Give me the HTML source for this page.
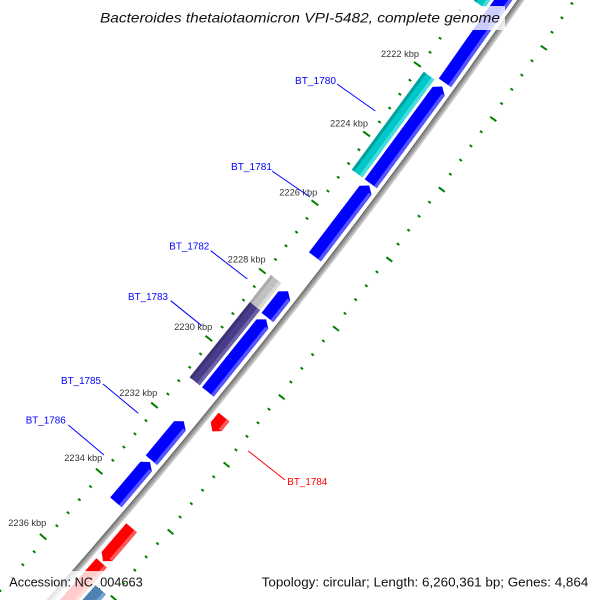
<!DOCTYPE html>
<html><head><meta charset="utf-8"><style>
html,body{margin:0;padding:0;background:#fff;width:600px;height:600px;overflow:hidden;}
svg{display:block;overflow:hidden;}
text{font-family:"Liberation Sans",sans-serif;}
</style></head><body>
<svg width="600" height="600" viewBox="0 0 600 600" xmlns="http://www.w3.org/2000/svg" overflow="hidden">
<defs><clipPath id="cp"><rect x="0" y="0" width="600" height="600"/></clipPath></defs>
<g clip-path="url(#cp)">
<rect x="0" y="0" width="600" height="600" fill="#fff"/>
<g transform="translate(-4900,-3765)">
  <!-- inner tick ring -->
  <g stroke="#008000" stroke-width="2">
    <line transform="rotate(35.1576)" x1="6554.5" x2="6557.5"/><line transform="rotate(35.3082)" x1="6554.5" x2="6557.5"/><line transform="rotate(35.4588)" x1="6554.5" x2="6557.5"/><line transform="rotate(35.6094)" x1="6554.5" x2="6557.5"/>
    <line transform="rotate(35.9106)" x1="6554.5" x2="6557.5"/><line transform="rotate(36.0612)" x1="6554.5" x2="6557.5"/><line transform="rotate(36.2118)" x1="6554.5" x2="6557.5"/><line transform="rotate(36.3624)" x1="6554.5" x2="6557.5"/>
    <line transform="rotate(36.6636)" x1="6554.5" x2="6557.5"/><line transform="rotate(36.8142)" x1="6554.5" x2="6557.5"/><line transform="rotate(36.9648)" x1="6554.5" x2="6557.5"/><line transform="rotate(37.1154)" x1="6554.5" x2="6557.5"/>
    <line transform="rotate(37.4166)" x1="6554.5" x2="6557.5"/><line transform="rotate(37.5672)" x1="6554.5" x2="6557.5"/><line transform="rotate(37.7178)" x1="6554.5" x2="6557.5"/><line transform="rotate(37.8684)" x1="6554.5" x2="6557.5"/>
    <line transform="rotate(38.1696)" x1="6554.5" x2="6557.5"/><line transform="rotate(38.3202)" x1="6554.5" x2="6557.5"/><line transform="rotate(38.4708)" x1="6554.5" x2="6557.5"/><line transform="rotate(38.6214)" x1="6554.5" x2="6557.5"/>
    <line transform="rotate(38.9226)" x1="6554.5" x2="6557.5"/><line transform="rotate(39.0732)" x1="6554.5" x2="6557.5"/><line transform="rotate(39.2238)" x1="6554.5" x2="6557.5"/><line transform="rotate(39.3744)" x1="6554.5" x2="6557.5"/>
    <line transform="rotate(39.6756)" x1="6554.5" x2="6557.5"/><line transform="rotate(39.8262)" x1="6554.5" x2="6557.5"/><line transform="rotate(39.9768)" x1="6554.5" x2="6557.5"/><line transform="rotate(40.1274)" x1="6554.5" x2="6557.5"/>
    <line transform="rotate(40.4286)" x1="6554.5" x2="6557.5"/><line transform="rotate(40.5792)" x1="6554.5" x2="6557.5"/><line transform="rotate(40.7298)" x1="6554.5" x2="6557.5"/><line transform="rotate(40.8804)" x1="6554.5" x2="6557.5"/>
    <line transform="rotate(41.1816)" x1="6554.5" x2="6557.5"/><line transform="rotate(41.3322)" x1="6554.5" x2="6557.5"/><line transform="rotate(41.4828)" x1="6554.5" x2="6557.5"/><line transform="rotate(41.6334)" x1="6554.5" x2="6557.5"/>
    <line transform="rotate(35.76)" x1="6548.5" x2="6557"/><line transform="rotate(36.513)" x1="6548.5" x2="6557"/>
    <line transform="rotate(37.266)" x1="6548.5" x2="6557"/><line transform="rotate(38.019)" x1="6548.5" x2="6557"/><line transform="rotate(38.772)" x1="6548.5" x2="6557"/><line transform="rotate(39.525)" x1="6548.5" x2="6557"/>
    <line transform="rotate(40.278)" x1="6548.5" x2="6557"/><line transform="rotate(41.031)" x1="6548.5" x2="6557"/>
  </g>

  <!-- backbone (arcs limited to visible span) -->
  <g fill="none" transform="rotate(38)">
    <path d="M6584.73,-414.27 A6597.75,6597.75 0 0 1 6584.73,414.27" stroke="#6e6e6e" stroke-width="1.5"/>
    <path d="M6586.23,-414.37 A6599.25,6599.25 0 0 1 6586.23,414.37" stroke="#8a8a8a" stroke-width="1.5"/>
    <path d="M6587.73,-414.46 A6600.75,6600.75 0 0 1 6587.73,414.46" stroke="#a6a6a6" stroke-width="1.5"/>
    <path d="M6589.22,-414.56 A6602.25,6602.25 0 0 1 6589.22,414.56" stroke="#c6c6c6" stroke-width="1.5"/>
  </g>

  <!-- inner row 1: blue (reverse strand) -->
  <g transform="rotate(35.125)"><polygon fill="#0000ff" points="6578,-65.84 6585.5,-71.84 6593,-65.84 6593,71.84 6578,71.84"/><polygon fill="#5555ff" points="6589.5,-65.84 6593,-65.84 6593,71.84 6589.5,71.84"/></g>
  <g transform="rotate(36.315)"><polygon fill="#0000ff" points="6578,-54.34 6585.5,-60.34 6593,-54.34 6593,60.34 6578,60.34"/><polygon fill="#5555ff" points="6589.5,-54.34 6593,-54.34 6593,60.34 6589.5,60.34"/></g>
  <g transform="rotate(37.25)"><polygon fill="#0000ff" points="6578,-38.83 6585.5,-44.83 6593,-38.83 6593,44.83 6578,44.83"/><polygon fill="#5555ff" points="6589.5,-38.83 6593,-38.83 6593,44.83 6589.5,44.83"/></g>
  <g transform="rotate(38.165)"><polygon fill="#0000ff" points="6578,-10.67 6585.5,-16.67 6593,-10.67 6593,16.67 6578,16.67"/><polygon fill="#5555ff" points="6589.5,-10.67 6593,-10.67 6593,16.67 6589.5,16.67"/></g>
  <g transform="rotate(38.735)"><polygon fill="#0000ff" points="6578,-40.55 6585.5,-46.55 6593,-40.55 6593,46.55 6578,46.55"/><polygon fill="#5555ff" points="6589.5,-40.55 6593,-40.55 6593,46.55 6589.5,46.55"/></g>
  <g transform="rotate(39.69)"><polygon fill="#0000ff" points="6578,-19.29 6585.5,-25.29 6593,-19.29 6593,25.29 6578,25.29"/><polygon fill="#5555ff" points="6589.5,-19.29 6593,-19.29 6593,25.29 6589.5,25.29"/></g>
  <g transform="rotate(40.16)"><polygon fill="#0000ff" points="6578,-20.44 6585.5,-26.44 6593,-20.44 6593,26.44 6578,26.44"/><polygon fill="#5555ff" points="6589.5,-20.44 6593,-20.44 6593,26.44 6589.5,26.44"/></g>

  <!-- inner row 2 -->
  <g transform="rotate(34.76)"><rect x="6562" y="-29.81" width="13" height="59.62" fill="#00c8c8"/><rect x="6562" y="-29.81" width="3" height="59.62" fill="#00a0a0"/><rect x="6571.5" y="-29.81" width="3.5" height="59.62" fill="#44dddd"/></g>
  <g transform="rotate(36.31)"><rect x="6562" y="-60.76" width="13" height="121.52" fill="#00c8c8"/><rect x="6562" y="-60.76" width="3" height="121.52" fill="#00a0a0"/><rect x="6571.5" y="-60.76" width="3.5" height="121.52" fill="#44dddd"/></g>
  <g transform="rotate(38.15)"><rect x="6562" y="-17.2" width="13" height="34.4" fill="#c0c0c0"/><rect x="6562" y="-17.2" width="3" height="34.4" fill="#ababab"/><rect x="6571.5" y="-17.2" width="3.5" height="34.4" fill="#d8d8d8"/></g>
  <g transform="rotate(38.72)"><rect x="6562" y="-48.15" width="13" height="96.3" fill="#483d8b"/><rect x="6562" y="-48.15" width="3" height="96.3" fill="#3a3172"/><rect x="6571.5" y="-48.15" width="3.5" height="96.3" fill="#6b62a8"/></g>

  <!-- outer row 1: red (forward strand) -->
  <g transform="rotate(39.30)"><polygon fill="#ff0000" points="6607,-9.24 6621,-9.24 6621,3.24 6614,9.24 6607,3.24"/><polygon fill="#ff5a5a" points="6617.5,-9.24 6621,-9.24 6621,3.24 6617.5,3.24"/></g>
  <g transform="rotate(40.66)"><polygon fill="#ff0000" points="6607,-21.93 6621,-21.93 6621,15.93 6614,21.93 6607,15.93"/><polygon fill="#ff5a5a" points="6617.5,-21.93 6621,-21.93 6621,15.93 6617.5,15.93"/></g>
  <g transform="rotate(41.235)"><rect x="6607" y="-42.14" width="14" height="84.28" fill="#ff0000"/><rect x="6617.5" y="-42.14" width="3.5" height="84.28" fill="#ff5a5a"/></g>
</g>

<!-- tick labels -->
<g font-size="9" fill="#333">
  <text x="381" y="57" textLength="38" lengthAdjust="spacingAndGlyphs">2222 kbp</text>
  <text x="330" y="126.5" textLength="38" lengthAdjust="spacingAndGlyphs">2224 kbp</text>
  <text x="279.3" y="195.5" textLength="38" lengthAdjust="spacingAndGlyphs">2226 kbp</text>
  <text x="227.7" y="262.5" textLength="38" lengthAdjust="spacingAndGlyphs">2228 kbp</text>
  <text x="174.3" y="330" textLength="38" lengthAdjust="spacingAndGlyphs">2230 kbp</text>
  <text x="119.3" y="396" textLength="38" lengthAdjust="spacingAndGlyphs">2232 kbp</text>
  <text x="64.3" y="461" textLength="38" lengthAdjust="spacingAndGlyphs">2234 kbp</text>
  <text x="8.3" y="526" textLength="38" lengthAdjust="spacingAndGlyphs">2236 kbp</text>
</g>

<!-- leader lines -->
<g stroke="#0000ff" stroke-width="1">
  <line x1="337" y1="84" x2="375.3" y2="111"/>
  <line x1="272" y1="171" x2="310" y2="197"/>
  <line x1="210.7" y1="250.7" x2="247.3" y2="279"/>
  <line x1="170.7" y1="300.7" x2="201.7" y2="325.7"/>
  <line x1="103" y1="384" x2="138.3" y2="413.3"/>
  <line x1="68.3" y1="425" x2="104" y2="455"/>
</g>
<line x1="248.3" y1="451" x2="285" y2="480" stroke="#ff0000" stroke-width="1"/>

<!-- gene labels -->
<g font-size="10" fill="#0000ff">
  <text x="295" y="84" textLength="41" lengthAdjust="spacingAndGlyphs">BT_1780</text>
  <text x="231" y="170" textLength="41" lengthAdjust="spacingAndGlyphs">BT_1781</text>
  <text x="169.3" y="249.5" textLength="40" lengthAdjust="spacingAndGlyphs">BT_1782</text>
  <text x="128" y="300" textLength="40" lengthAdjust="spacingAndGlyphs">BT_1783</text>
  <text x="61" y="384" textLength="40" lengthAdjust="spacingAndGlyphs">BT_1785</text>
  <text x="25.7" y="423.5" textLength="40" lengthAdjust="spacingAndGlyphs">BT_1786</text>
</g>
<text x="287.3" y="485" font-size="10" fill="#ff0000" textLength="40" lengthAdjust="spacingAndGlyphs">BT_1784</text>

<!-- title -->
<rect x="95" y="6" width="410" height="24" fill="#fff" fill-opacity="0.8"/>
<text x="100" y="22.5" font-size="14" font-style="italic" fill="#111" textLength="400" lengthAdjust="spacingAndGlyphs">Bacteroides thetaiotaomicron VPI-5482, complete genome</text>

<!-- footer -->
<rect x="3" y="571" width="144" height="29" fill="#fff" fill-opacity="0.8"/>
<text x="9.3" y="586.7" font-size="13" fill="#111" textLength="133.4" lengthAdjust="spacingAndGlyphs">Accession: NC_004663</text>
<text x="261.7" y="586.7" font-size="13" fill="#111" textLength="326.6" lengthAdjust="spacingAndGlyphs">Topology: circular; Length: 6,260,361 bp; Genes: 4,864</text>

<g transform="translate(-4900,-3765)">
  <!-- outer row 2 -->
  <g transform="rotate(41.325)"><rect x="6624" y="-31.83" width="14" height="63.66" fill="#4f82b2"/><rect x="6634.5" y="-31.83" width="3.5" height="63.66" fill="#7ba7cf"/></g>
  <!-- outer tick ring -->
  <g stroke="#008000" stroke-width="2">
    <line transform="rotate(34.5552)" x1="6642.5" x2="6645.5"/><line transform="rotate(34.7058)" x1="6642.5" x2="6645.5"/><line transform="rotate(34.8564)" x1="6642.5" x2="6645.5"/>
    <line transform="rotate(35.1576)" x1="6642.5" x2="6645.5"/><line transform="rotate(35.3082)" x1="6642.5" x2="6645.5"/><line transform="rotate(35.4588)" x1="6642.5" x2="6645.5"/><line transform="rotate(35.6094)" x1="6642.5" x2="6645.5"/>
    <line transform="rotate(35.9106)" x1="6642.5" x2="6645.5"/><line transform="rotate(36.0612)" x1="6642.5" x2="6645.5"/><line transform="rotate(36.2118)" x1="6642.5" x2="6645.5"/><line transform="rotate(36.3624)" x1="6642.5" x2="6645.5"/>
    <line transform="rotate(36.6636)" x1="6642.5" x2="6645.5"/><line transform="rotate(36.8142)" x1="6642.5" x2="6645.5"/><line transform="rotate(36.9648)" x1="6642.5" x2="6645.5"/><line transform="rotate(37.1154)" x1="6642.5" x2="6645.5"/>
    <line transform="rotate(37.4166)" x1="6642.5" x2="6645.5"/><line transform="rotate(37.5672)" x1="6642.5" x2="6645.5"/><line transform="rotate(37.7178)" x1="6642.5" x2="6645.5"/><line transform="rotate(37.8684)" x1="6642.5" x2="6645.5"/>
    <line transform="rotate(38.1696)" x1="6642.5" x2="6645.5"/><line transform="rotate(38.3202)" x1="6642.5" x2="6645.5"/><line transform="rotate(38.4708)" x1="6642.5" x2="6645.5"/><line transform="rotate(38.6214)" x1="6642.5" x2="6645.5"/>
    <line transform="rotate(38.9226)" x1="6642.5" x2="6645.5"/><line transform="rotate(39.0732)" x1="6642.5" x2="6645.5"/><line transform="rotate(39.2238)" x1="6642.5" x2="6645.5"/><line transform="rotate(39.3744)" x1="6642.5" x2="6645.5"/>
    <line transform="rotate(39.6756)" x1="6642.5" x2="6645.5"/><line transform="rotate(39.8262)" x1="6642.5" x2="6645.5"/><line transform="rotate(39.9768)" x1="6642.5" x2="6645.5"/><line transform="rotate(40.1274)" x1="6642.5" x2="6645.5"/>
    <line transform="rotate(40.4286)" x1="6642.5" x2="6645.5"/><line transform="rotate(40.5792)" x1="6642.5" x2="6645.5"/><line transform="rotate(40.7298)" x1="6642.5" x2="6645.5"/><line transform="rotate(40.8804)" x1="6642.5" x2="6645.5"/>
    <line transform="rotate(35.007)" x1="6642.5" x2="6650"/><line transform="rotate(35.76)" x1="6642.5" x2="6650"/><line transform="rotate(36.513)" x1="6642.5" x2="6650"/>
    <line transform="rotate(37.266)" x1="6642.5" x2="6650"/><line transform="rotate(38.019)" x1="6642.5" x2="6650"/><line transform="rotate(38.772)" x1="6642.5" x2="6650"/><line transform="rotate(39.525)" x1="6642.5" x2="6650"/>
    <line transform="rotate(40.278)" x1="6642.5" x2="6650"/><line transform="rotate(41.031)" x1="6642.5" x2="6650"/>
  </g>
</g>
</g>
</svg>
</body></html>
